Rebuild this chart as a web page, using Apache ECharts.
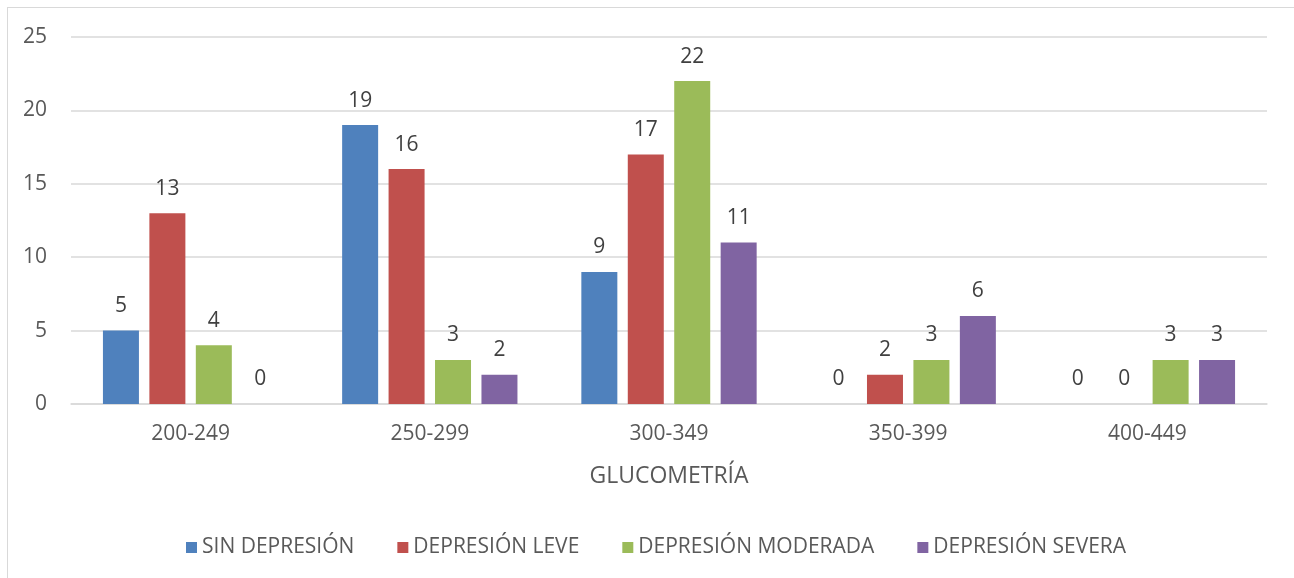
<!DOCTYPE html>
<html>
<head>
<meta charset="utf-8">
<script src="https://cdn.jsdelivr.net/npm/echarts@6/dist/echarts.min.js"></script>
<style>
  html, body { margin: 0; padding: 0; background: #fff; }
  #frame { position: absolute; left: 7px; top: 7px; width: 1300px; height: 600px; border: 1px solid #d9d9d9; box-sizing: border-box; }
  #chart { position: absolute; left: 0; top: 0; width: 1294px; height: 578px; }
</style>
</head>
<body>
<div id="frame"></div>
<div id="chart"></div>
<script>
// Glucose ranges and depression-level counts
const categories = ['200-249', '250-299', '300-349', '350-399', '400-449'];
const sinDepresion = [5, 19, 9, 0, 0];
const depresionLeve = [13, 16, 17, 2, 0];
const depresionModerada = [4, 3, 22, 3, 3];
const depresionSevera = [0, 2, 11, 6, 3];
const yTicks = { min: 0, max: 25, interval: 5 };

const font = '"Open Sans", "Liberation Sans", sans-serif';
const textColor = '#595959';

function barSeries(name, data, color) {
  return {
    name: name,
    type: 'bar',
    data: data,
    barWidth: 36,
    barGap: '29%',
    itemStyle: { color: color },
    label: {
      show: true,
      position: 'top',
      distance: 14,
      color: '#404040',
      fontSize: 21,
      fontFamily: font
    }
  };
}

const chart = echarts.init(document.getElementById('chart'), null, { renderer: 'canvas' });
chart.setOption({
  animation: false,
  grid: { left: 71, right: 27, top: 37, bottom: 174, containLabel: false },
  legend: {
    top: 532,
    left: 181,
    itemWidth: 11,
    itemHeight: 11,
    itemGap: 43,
    icon: 'rect',
    textStyle: { color: textColor, fontSize: 21, fontFamily: font },
    data: ['SIN DEPRESIÓN', 'DEPRESIÓN LEVE', 'DEPRESIÓN MODERADA', 'DEPRESIÓN SEVERA']
  },
  xAxis: {
    type: 'category',
    data: categories,
    name: 'GLUCOMETRÍA',
    nameLocation: 'middle',
    nameGap: 61,
    nameTextStyle: { color: textColor, fontSize: 23, fontFamily: font },
    axisLine: { lineStyle: { color: '#d9d9d9', width: 1.5 } },
    axisTick: { show: false },
    axisLabel: { color: textColor, fontSize: 21, fontFamily: font, margin: 20 }
  },
  yAxis: {
    type: 'value',
    min: yTicks.min,
    max: yTicks.max,
    interval: yTicks.interval,
    axisLine: { show: false },
    axisTick: { show: false },
    splitLine: { lineStyle: { color: '#d9d9d9', width: 1.5 } },
    axisLabel: { color: textColor, fontSize: 21, fontFamily: font, margin: 24 }
  },
  series: [
    barSeries('SIN DEPRESIÓN', sinDepresion, '#4f81bd'),
    barSeries('DEPRESIÓN LEVE', depresionLeve, '#c0504d'),
    barSeries('DEPRESIÓN MODERADA', depresionModerada, '#9bbb59'),
    barSeries('DEPRESIÓN SEVERA', depresionSevera, '#8064a2')
  ]
});
</script>
</body>
</html>
